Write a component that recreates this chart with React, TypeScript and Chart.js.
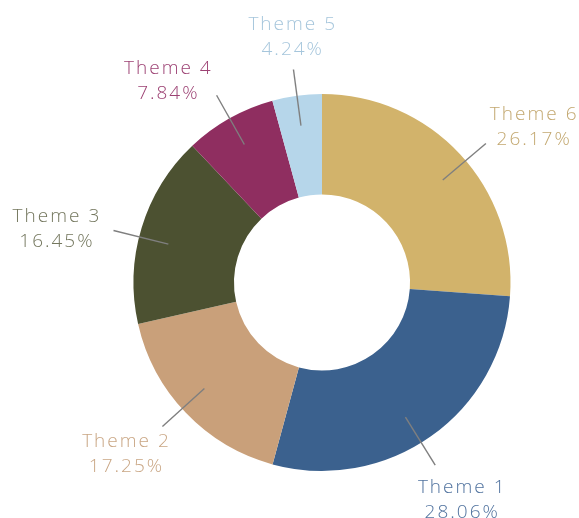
import React, { useEffect, useRef } from "react";
import { Chart, registerables } from "chart.js";

Chart.register(...registerables);

// ---- data ----
const categories: string[] = ["Theme 6", "Theme 1", "Theme 2", "Theme 3", "Theme 4", "Theme 5"];
const values: number[] = [26.17, 28.06, 17.25, 16.45, 7.84, 4.24];

// ---- styles ----
const sliceColors: string[] = ["#D2B36B", "#3B618E", "#C9A07A", "#4C5131", "#8F2E60", "#B6D6EA"];
const textColors: string[] = ["#C3A870", "#51739F", "#C9A684", "#74775E", "#9C4173", "#A6C6DC"];
// label nudges (px) relative to the radial label anchor, and leader-line angle nudges (deg)
const labelNudgeX: number[] = [22, -10, -10, -19, -28, 4];
const labelNudgeY: number[] = [18.5, 5, -9, 20, 22.5, 9];
const lineAngleNudge: number[] = [2.6, 3.5, 1.7, -2.9, 0, 0];

const labelPlugin = {
  id: "outsideLabels",
  afterDatasetsDraw(chart: any) {
    const ctx = chart.ctx as CanvasRenderingContext2D;
    const meta = chart.getDatasetMeta(0);
    meta.data.forEach((arc: any, i: number) => {
      const { x, y, startAngle, endAngle, outerRadius } = arc.getProps(
        ["x", "y", "startAngle", "endAngle", "outerRadius"],
        true
      );
      const mid = (startAngle + endAngle) / 2;
      const la = mid + (lineAngleNudge[i] * Math.PI) / 180;
      const r1 = outerRadius * 0.84;
      const r2 = outerRadius * 1.14;
      ctx.save();
      ctx.strokeStyle = "#7F7F7F";
      ctx.lineWidth = 1.4;
      ctx.beginPath();
      ctx.moveTo(x + r1 * Math.cos(la), y + r1 * Math.sin(la));
      ctx.lineTo(x + r2 * Math.cos(la), y + r2 * Math.sin(la));
      ctx.stroke();

      const rl = outerRadius * 1.37;
      const cx = x + rl * Math.cos(mid) + labelNudgeX[i];
      const cy = y + rl * Math.sin(mid) + labelNudgeY[i];
      ctx.fillStyle = textColors[i];
      ctx.font = "300 19px 'Open Sans', 'DejaVu Sans', sans-serif";
      (ctx as any).letterSpacing = "2px";
      ctx.textAlign = "center";
      ctx.textBaseline = "alphabetic";
      ctx.fillText(categories[i], cx + 1, cy - 12.5 + 7);
      ctx.fillText(values[i].toFixed(2) + "%", cx + 1, cy + 12.5 + 7);
      ctx.restore();
    });
  },
};

export default function App() {
  const ref = useRef<HTMLCanvasElement | null>(null);
  useEffect(() => {
    if (!ref.current) return;
    const chart = new Chart(ref.current, {
      type: "doughnut",
      data: {
        labels: categories,
        datasets: [
          {
            data: values,
            backgroundColor: sliceColors,
            borderWidth: 0,
            hoverOffset: 0,
          },
        ],
      },
      options: {
        responsive: false,
        animation: false,
        cutout: "46.7%",
        layout: { padding: { left: 133.5, right: 68.5, top: 94, bottom: 47 } },
        plugins: {
          legend: { display: false },
          tooltip: { enabled: false },
        },
      },
      plugins: [labelPlugin],
    });
    return () => chart.destroy();
  }, []);
  return (
    <div style={{ position: "absolute", left: 0, top: 0, width: 579, height: 518, background: "#fff" }}>
      <canvas ref={ref} width={579} height={518} style={{ display: "block" }} />
    </div>
  );
}
